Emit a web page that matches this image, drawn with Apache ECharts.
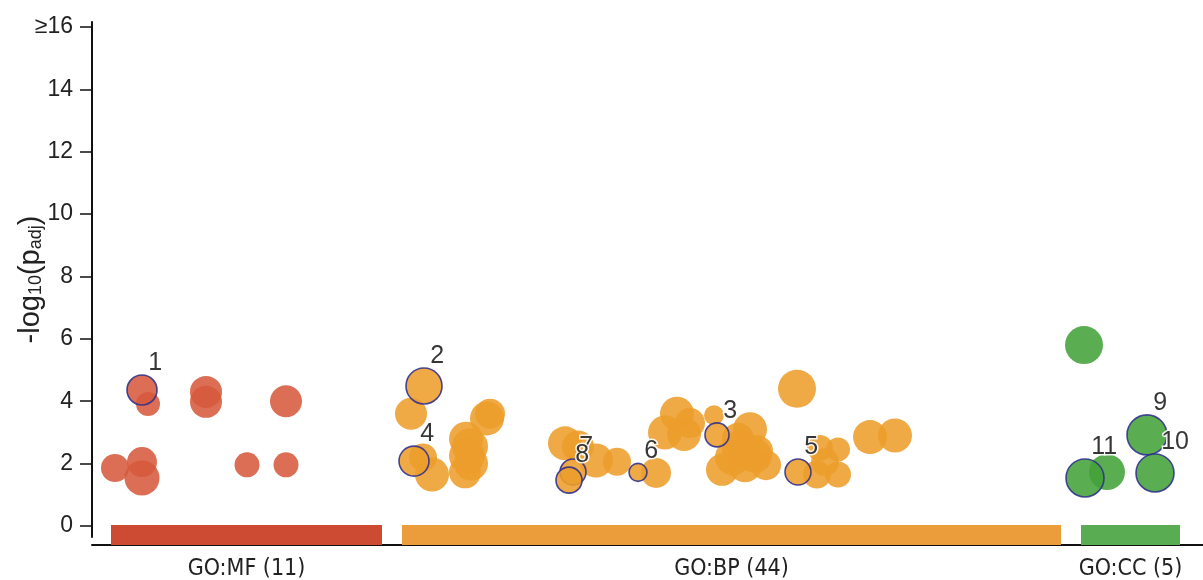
<!DOCTYPE html>
<html>
<head>
<meta charset="utf-8">
<script src="https://cdn.jsdelivr.net/npm/echarts@6/dist/echarts.min.js"></script>
<style>
  html, body { margin: 0; padding: 0; background: #ffffff; }
  #chart { width: 1203px; height: 580px; }
</style>
</head>
<body>
<div id="chart"></div>
<script>
// Sources along the x axis, their term counts and their extent on the position scale
const sources = ['GO:MF', 'GO:BP', 'GO:CC'];
const sourceCounts = [11, 44, 5];
const sourceStart = [19, 310, 989];
const sourceEnd = [290, 969, 1088];

// y axis ticks; the top tick is a capped value
const yTicks = [0, 2, 4, 6, 8, 10, 12, 14, 16];
const yCapValue = 16;
const yCapLabel = '≥16';

// GO:MF terms: position, -log10(p_adj), bubble radius, highlight tag
const mfPos    = [56, 23, 50, 50, 114, 114, 194, 155, 194, 50];
const mfLogP   = [3.91, 1.86, 2.05, 1.54, 4.30, 3.98, 4.00, 1.96, 1.96, 4.36];
const mfRadius = [12, 14, 15, 17.5, 16, 16, 16, 12.5, 12.5, 15];
const mfTag    = ['', '', '', '', '', '', '', '', '', '1'];

// GO:BP terms
const bpPos = [332, 319, 322, 331, 340, 374, 378, 375, 379, 373, 395, 398,
               473, 486, 504, 525, 481, 477, 546, 564, 585, 573, 592, 598,
               622, 625, 658, 648, 641, 630, 653, 665, 674, 705, 778, 803,
               706, 728, 746, 725, 746, 733, 646, 663];
const bpLogP = [4.49, 3.60, 2.08, 2.20, 1.65, 2.80, 2.55, 2.25, 2.00, 1.72, 3.45, 3.60,
                2.65, 2.55, 2.10, 2.06, 1.73, 1.47, 1.72, 1.70, 3.60, 3.00, 2.95, 3.30,
                3.55, 2.92, 3.10, 2.50, 2.20, 1.80, 1.95, 2.40, 1.95, 4.40, 2.85, 2.90,
                1.73, 2.50, 2.45, 1.65, 1.65, 2.05, 2.80, 2.25];
const bpRadius = [18, 16, 15, 14, 17, 17, 18, 18, 17, 16, 17, 15,
                  17, 16, 17, 14, 13, 13, 9, 15, 17, 17, 17, 15,
                  10, 12, 17, 18, 18, 16, 17, 16, 15, 19, 17, 17,
                  13, 13, 12, 14, 13, 14, 16, 17];
const bpTag = ['2', '', '4', '', '', '', '', '', '', '', '', '',
               '', '', '', '', '7', '8', '6', '', '', '', '', '',
               '', '3', '', '', '', '', '', '', '', '', '', '',
               '5', '', '', '', '', '', '', ''];

// GO:CC terms
const ccPos    = [992, 1015, 1055, 1063, 993];
const ccLogP   = [5.80, 1.73, 2.92, 1.70, 1.54];
const ccRadius = [19, 18, 20, 19, 19];
const ccTag    = ['', '', '9', '10', '11'];

const pointColors = ['#d65a3c', '#ed9d2b', '#43a238'];
const bandColors  = ['#cd4a33', '#eb9d3c', '#5aac52'];
const ringColor = '#2d2f8c';
const fontMain = '"Liberation Sans", Arial, "DejaVu Sans", sans-serif';
const fontNarrow = '"Liberation Sans Narrow", "DejaVu Sans Condensed", "Liberation Sans", sans-serif';
const axisMax = 1111;

// Highlighted terms go last so their rings sit on top
function buildPoints(pos, logp, radius, tag) {
  const items = pos.map((p, i) => ({ p: p, v: logp[i], r: radius[i], t: tag[i] }));
  items.sort((a, b) => (a.t ? 1 : 0) - (b.t ? 1 : 0));
  return items.map(d => {
    const item = { value: [d.p, d.v], symbolSize: d.r * 2 };
    if (d.t) {
      item.itemStyle = { borderColor: ringColor, borderWidth: 1.6 };
      item.label = {
        show: true,
        formatter: d.t,
        position: [d.r + 7, 1],
        align: 'left',
        verticalAlign: 'bottom'
      };
    }
    return item;
  });
}

const pointSets = [
  buildPoints(mfPos, mfLogP, mfRadius, mfTag),
  buildPoints(bpPos, bpLogP, bpRadius, bpTag),
  buildPoints(ccPos, ccLogP, ccRadius, ccTag)
];

const scatterSeries = sources.map((s, k) => ({
  name: s,
  type: 'scatter',
  xAxisIndex: 0,
  yAxisIndex: 0,
  symbol: 'circle',
  silent: true,
  data: pointSets[k],
  itemStyle: { color: pointColors[k], opacity: 0.88 },
  label: {
    color: '#1a1a1a',
    fontFamily: fontMain,
    fontSize: 25,
    textBorderColor: '#ffffff',
    textBorderWidth: 3
  }
}));

const bandCenters = sources.map((s, i) => (sourceStart[i] + sourceEnd[i]) / 2);

const bandSeries = {
  type: 'custom',
  xAxisIndex: 1,
  yAxisIndex: 1,
  silent: true,
  data: sources.map((s, i) => [sourceStart[i], sourceEnd[i], i]),
  encode: { x: [0, 1] },
  renderItem: function (params, api) {
    const a = api.coord([api.value(0), 1]);
    const b = api.coord([api.value(1), 0]);
    return {
      type: 'rect',
      shape: { x: a[0], y: a[1], width: b[0] - a[0], height: b[1] - a[1] },
      style: { fill: bandColors[api.value(2)] }
    };
  }
};

const chart = echarts.init(document.getElementById('chart'), null, { renderer: 'canvas' });
chart.setOption({
  animation: false,
  backgroundColor: '#ffffff',
  grid: [
    { left: 92, right: 0, top: 22, bottom: 43, outerBoundsMode: 'none', containLabel: false },
    { left: 92, right: 0, top: 525, bottom: 35, outerBoundsMode: 'none', containLabel: false }
  ],
  xAxis: [
    { gridIndex: 0, type: 'value', min: 0, max: axisMax, show: false },
    {
      gridIndex: 1, type: 'value', min: 0, max: axisMax,
      splitLine: { show: false },
      axisLine: { show: true, lineStyle: { color: '#111111', width: 2 } },
      axisTick: { show: false },
      axisLabel: {
        customValues: bandCenters,
        formatter: function (v) {
          const i = bandCenters.indexOf(v);
          return i >= 0 ? sources[i] + ' (' + sourceCounts[i] + ')' : '';
        },
        margin: 13,
        color: '#222222',
        fontFamily: fontNarrow,
        fontSize: 23
      }
    }
  ],
  yAxis: [
    {
      gridIndex: 0, type: 'value', min: -0.353, max: 16.16,
      splitLine: { show: false },
      axisLine: { show: true, lineStyle: { color: '#111111', width: 2 } },
      axisTick: { show: true, customValues: yTicks, length: 12, lineStyle: { color: '#111111', width: 1.5 } },
      axisLabel: {
        customValues: yTicks,
        formatter: v => (v === yCapValue ? yCapLabel : String(v)),
        margin: 19,
        color: '#222222',
        fontFamily: fontMain,
        fontSize: 23
      },
      name: '{m|-log}{s|10}{m|(p}{s|adj}{m|)}',
      nameLocation: 'middle',
      nameRotate: 90,
      nameGap: 47,
      nameMoveOverlap: false,
      nameTextStyle: {
        color: '#222222',
        fontFamily: fontMain,
        rich: {
          m: { fontSize: 29, fontFamily: fontMain, color: '#222222', verticalAlign: 'bottom', lineHeight: 32 },
          s: { fontSize: 18, fontFamily: fontMain, color: '#222222', verticalAlign: 'bottom', lineHeight: 30 }
        }
      }
    },
    { gridIndex: 1, type: 'value', min: 0, max: 1, show: false }
  ],
  series: scatterSeries.concat([bandSeries])
});
</script>
</body>
</html>
